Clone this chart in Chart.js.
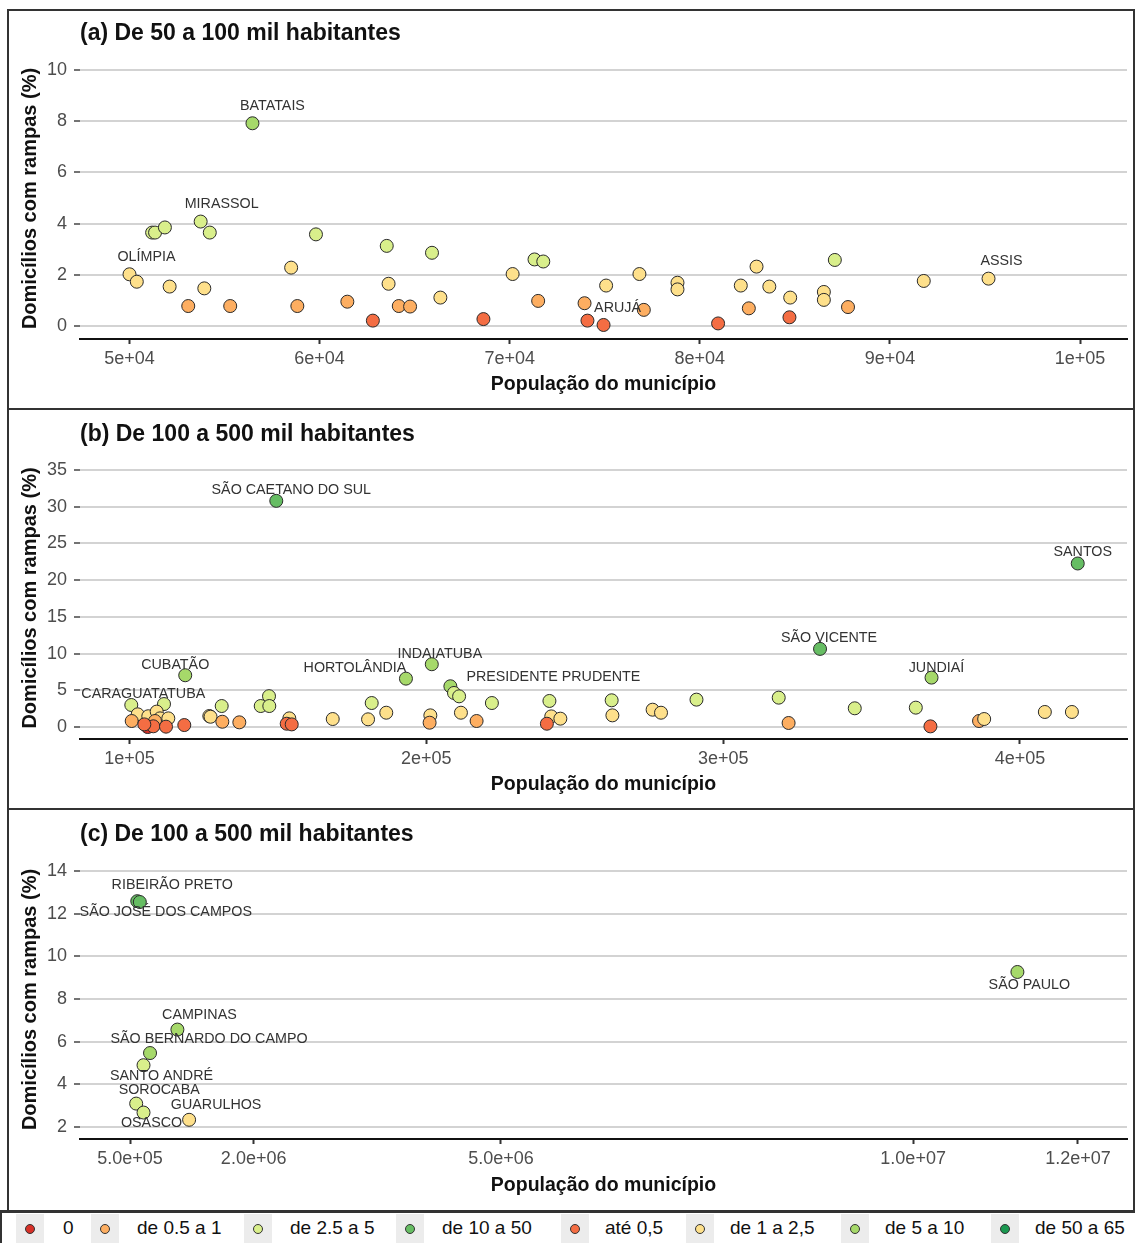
<!DOCTYPE html>
<html>
<head>
<meta charset="utf-8">
<script src="https://cdn.jsdelivr.net/npm/chart.js@4.4.1/dist/chart.umd.min.js"></script>
<style>
html,body{margin:0;padding:0;background:#fff;}
#fig{position:relative;width:1135px;height:1243px;overflow:hidden;font-family:"Liberation Sans",Arial,sans-serif;background:#fff;}
.panel{position:absolute;left:7px;width:1128px;border:2px solid #333;box-sizing:border-box;}
canvas{position:absolute;left:0;}
.ptitle{position:absolute;left:80px;font-weight:bold;font-size:23px;color:#111;white-space:nowrap;line-height:28px;}
#legend{position:absolute;left:0;top:1210px;width:1135px;height:33px;border-top:3px solid #333;border-left:2px solid #333;box-sizing:border-box;}
.lkey{position:absolute;top:1px;width:28px;height:29px;background:#ececec;}
.ldot{position:absolute;left:9px;top:10px;width:8px;height:8px;border-radius:50%;border:1px solid #333;}
.ltxt{position:absolute;top:3px;font-size:19px;color:#111;white-space:nowrap;line-height:24px;}
</style>
</head>
<body>
<div id="fig">
  <div class="panel" style="top:9px;height:401px;"></div>
  <div class="panel" style="top:408px;height:402px;"></div>
  <div class="panel" style="top:808px;height:404px;"></div>
  <canvas id="cA" width="1135" height="399" style="top:9px"></canvas>
  <canvas id="cB" width="1135" height="399" style="top:409px"></canvas>
  <canvas id="cC" width="1135" height="400" style="top:809px"></canvas>
  <div class="ptitle" style="top:18px">(a) De 50 a 100 mil habitantes</div>
  <div class="ptitle" style="top:419px">(b) De 100 a 500 mil habitantes</div>
  <div class="ptitle" style="top:819px">(c) De 100 a 500 mil habitantes</div>
  <div id="legend"></div>
</div>
<script>
// ---------- categories ----------
const classNames = ['0','até 0,5','de 0.5 a 1','de 1 a 2,5','de 2.5 a 5','de 5 a 10','de 10 a 50','de 50 a 65'];
const classColors = ['#d73027','#f46d43','#fdae61','#fee08b','#d9ef8b','#a6d96a','#66bd63','#1a9850'];
const legendOrder = [0,2,4,6,1,3,5,7];

// ---------- panel (a): 50 to 100 thousand ----------
const popA = [56468,53743,54223,51190,51344,51862,50000,50384,52111,53935,53090,55298,59808,58503,58829,61459,62802,63532,63628,64165,64760,65912,66353,68618,70154,71305,71766,71497,73937,74090,74937,77055,75072,76824,78826,78826,80962,82156,82579,82984,83657,84755,84716,86526,86526,87103,87796,91781,95188];
const pctA = [7.92,4.08,3.65,3.65,3.65,3.85,2.02,1.73,1.54,1.47,0.78,0.78,3.58,2.28,0.78,0.95,0.21,3.13,1.65,0.78,0.76,2.86,1.11,0.27,2.03,2.60,2.52,0.98,0.89,0.21,0.04,0.63,1.58,2.03,1.69,1.43,0.10,1.58,0.69,2.32,1.54,1.11,0.34,1.33,1.02,2.58,0.74,1.76,1.85];
const nameA = ['BATATAIS','MIRASSOL','','','','','OLÍMPIA','','','','','','','','','','','','','','','','','','','','','','','','ARUJÁ','','','','','','','','','','','','','','','','','','ASSIS'];
const xTicksA = [50000,60000,70000,80000,90000,100000];
const xLabelsA = ['5e+04','6e+04','7e+04','8e+04','9e+04','1e+05'];
const yTicksA = [0,2,4,6,8,10];

// ---------- panel (b): 100 to 500 thousand ----------
const popB = [149448,118773,100600,201840,193129,208098,209325,211043,222086,211656,216933,201350,201104,181595,186503,180368,168466,147000,144200,147100,153840,152960,154650,131060,126890,127300,131270,137000,118460,111620,102760,100740,106330,109160,110280,113070,108590,106130,108020,112300,104990,241472,242086,245153,240613,262438,262685,276232,279064,291010,318719,322044,332635,344335,364901,369828,370197,386207,387931,408374,417488,419458];
const pctB = [30.8,7.05,3.0,8.55,6.59,5.55,4.64,4.18,3.27,1.95,0.82,1.59,0.59,3.27,1.95,1.05,1.09,4.2,2.86,2.86,1.18,0.45,0.36,2.86,1.5,1.4,0.72,0.64,0.27,3.13,1.73,0.82,1.47,2.1,1.18,1.18,0.82,0,0.1,0.05,0.36,3.55,1.45,1.14,0.45,3.64,1.59,2.36,1.95,3.73,4.0,0.55,10.64,2.55,2.64,0.09,6.73,0.82,1.09,2.05,2.05,22.27];
const nameB = ['SÃO CAETANO DO SUL','CUBATÃO','CARAGUATATUBA','INDAIATUBA','HORTOLÂNDIA','PRESIDENTE PRUDENTE','','','','','','','','','','','','','','','','','','','','','','','','','','','','','','','','','','','','','','','','','','','','','','','SÃO VICENTE','','','','JUNDIAÍ','','','','','SANTOS'];
const xTicksB = [100000,200000,300000,400000];
const xLabelsB = ['1e+05','2e+05','3e+05','4e+05'];
const yTicksB = [0,5,10,15,20,25,30,35];

// ---------- panel (c): largest municipalities ----------
const popC = [588000,619000,1075000,743000,664000,575000,664000,1217000,11265000];
const pctC = [12.59,12.55,6.57,5.47,4.90,3.10,2.68,2.34,9.27];
const nameC = ['RIBEIRÃO PRETO','SÃO JOSÉ DOS CAMPOS','CAMPINAS','SÃO BERNARDO DO CAMPO','SANTO ANDRÉ','SOROCABA','OSASCO','GUARULHOS','SÃO PAULO'];
const xTicksC = [500000,2000000,5000000,10000000,12000000];
const xLabelsC = ['5.0e+05','2.0e+06','5.0e+06','1.0e+07','1.2e+07'];
const yTicksC = [2,4,6,8,10,12,14];

// ---------- label placement (pixel offsets from the point) ----------
const labelOffsets = {
  'BATATAIS':[20,-17],'MIRASSOL':[21,-18],'OLÍMPIA':[17,-17],'ARUJÁ':[14,-17],'ASSIS':[13,-18],
  'SÃO CAETANO DO SUL':[15,-11],'CUBATÃO':[-10,-10],'CARAGUATATUBA':[12,-11],'INDAIATUBA':[8,-10],
  'HORTOLÂNDIA':[-51,-11],'PRESIDENTE PRUDENTE':[103,-9],'SÃO VICENTE':[9,-11],'JUNDIAÍ':[5,-10],'SANTOS':[5,-11],
  'RIBEIRÃO PRETO':[35,-16],'SÃO JOSÉ DOS CAMPOS':[26,10],'CAMPINAS':[22,-15],'SÃO BERNARDO DO CAMPO':[59,-14],
  'SANTO ANDRÉ':[18,11],'SOROCABA':[23,-14],'OSASCO':[8,11],'GUARULHOS':[27,-15],'SÃO PAULO':[12,13]
};

function classOf(v){
  if (v === 0) return 0;
  if (v <= 0.5) return 1;
  if (v <= 1) return 2;
  if (v <= 2.5) return 3;
  if (v <= 5) return 4;
  if (v <= 10) return 5;
  if (v <= 50) return 6;
  return 7;
}

const FONT = '"Liberation Sans", Arial, sans-serif';

const labelPlugin = {
  id: 'pointLabels',
  afterDatasetsDraw(chart, args, opts) {
    const ctx = chart.ctx;
    const meta = chart.getDatasetMeta(0);
    const names = opts.names || [];
    ctx.save();
    ctx.font = '14.3px ' + FONT;
    ctx.fillStyle = '#333';
    ctx.textAlign = 'center';
    ctx.textBaseline = 'middle';
    names.forEach((n, i) => {
      if (!n) return;
      const el = meta.data[i];
      const off = labelOffsets[n] || [0, -12];
      ctx.fillText(n, el.x + off[0], el.y + off[1]);
    });
    ctx.restore();
  }
};

function makePanel(id, pop, pct, names, g) {
  const data = pop.map((p, i) => ({x: p, y: pct[i]}));
  const colors = pct.map(v => classColors[classOf(v)]);
  new Chart(document.getElementById(id), {
    type: 'scatter',
    data: { datasets: [{
      data: data,
      backgroundColor: colors,
      borderColor: '#2a2a2a',
      borderWidth: 1,
      pointRadius: 6.5,
      pointHoverRadius: 6.5
    }]},
    plugins: [labelPlugin],
    options: {
      responsive: false,
      animation: false,
      devicePixelRatio: 1,
      layout: { padding: { top: g.padTop, right: 8, bottom: 0, left: 0 } },
      plugins: {
        legend: { display: false },
        tooltip: { enabled: false },
        pointLabels: { names: names }
      },
      scales: {
        x: {
          type: 'linear',
          min: g.xmin, max: g.xmax,
          afterBuildTicks: s => { s.ticks = g.xt.map(v => ({value: v})); },
          afterFit: s => { s.height = g.xh; },
          ticks: {
            autoSkip: false, maxRotation: 0, minRotation: 0, padding: 4,
            color: '#4d4d4d', font: { size: 18, family: FONT },
            callback: v => g.xl[g.xt.indexOf(v)]
          },
          grid: { drawOnChartArea: false, drawTicks: true, tickLength: 5, tickColor: '#333', tickWidth: 2 },
          border: { display: true, color: '#111', width: 2 },
          title: { display: true, text: 'População do município', color: '#111',
                   font: { size: 19.5, weight: 'bold', family: FONT }, padding: { top: 0, bottom: 12 } }
        },
        y: {
          min: g.ymin, max: g.ymax,
          afterBuildTicks: s => { s.ticks = g.yt.map(v => ({value: v})); },
          afterFit: s => { s.width = 80; },
          ticks: {
            autoSkip: false, padding: 7, color: '#4d4d4d', font: { size: 18, family: FONT },
            callback: v => String(v)
          },
          grid: { color: '#d3d3d3', lineWidth: 2, drawTicks: true, tickLength: 6, tickColor: '#444', tickWidth: 1.5 },
          border: { display: false },
          title: { display: true, text: 'Domicílios com rampas (%)', color: '#111',
                   font: { size: 20, weight: 'bold', family: FONT }, padding: { top: 18, bottom: 0 } }
        }
      }
    }
  });
}

makePanel('cA', popA, pctA, nameA, {
  padTop: 49, xh: 69, xmin: 47396, xmax: 102472, ymin: -0.508, ymax: 10.47,
  xt: xTicksA, xl: xLabelsA, yt: yTicksA
});
makePanel('cB', popB, pctB, nameB, {
  padTop: 48, xh: 69, xmin: 83322, xmax: 436051, ymin: -1.63, ymax: 36.77,
  xt: xTicksB, xl: xLabelsB, yt: yTicksB
});
makePanel('cC', popC, pctC, nameC, {
  padTop: 51, xh: 70, xmin: -106575, xmax: 12594444, ymin: 1.44, ymax: 14.52,
  xt: xTicksC, xl: xLabelsC, yt: yTicksC
});

// ---------- legend ----------
const legendDotX = [30, 105, 258, 410, 575, 700, 855, 1005];
const legendTextX = [63, 137, 290, 442, 605, 730, 885, 1035];
const lg = document.getElementById('legend');
legendOrder.forEach((c, k) => {
  const key = document.createElement('div');
  key.className = 'lkey';
  key.style.left = (legendDotX[k] - 14 - 2) + 'px';
  const dot = document.createElement('div');
  dot.className = 'ldot';
  dot.style.background = classColors[c];
  key.appendChild(dot);
  lg.appendChild(key);
  const t = document.createElement('div');
  t.className = 'ltxt';
  t.style.left = (legendTextX[k] - 2) + 'px';
  t.textContent = classNames[c];
  lg.appendChild(t);
});
</script>
</body>
</html>
